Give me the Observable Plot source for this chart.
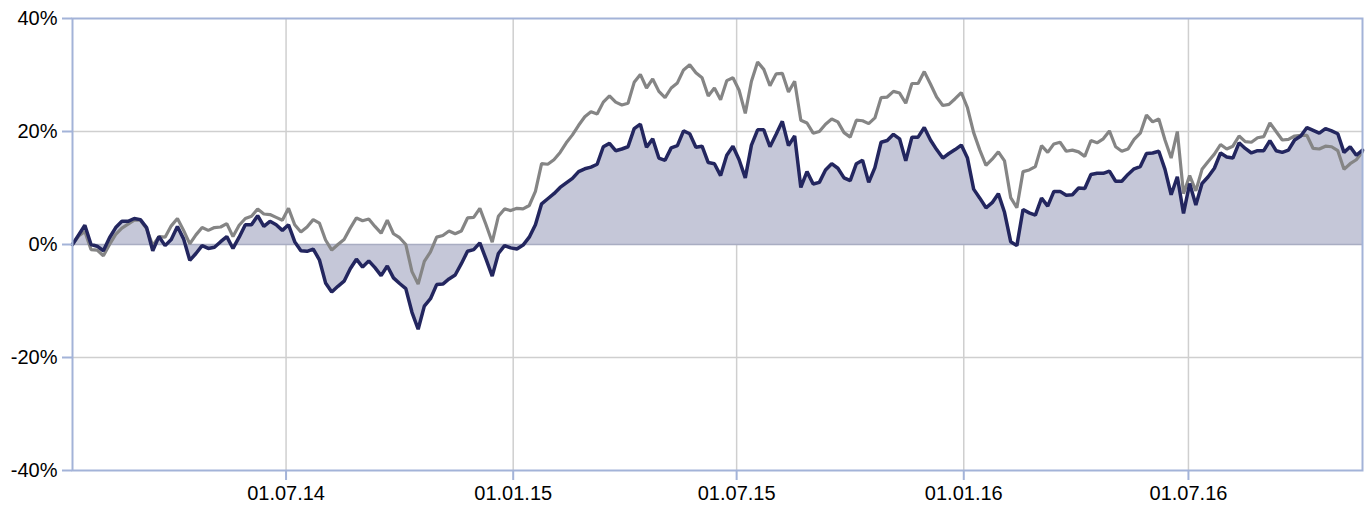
<!DOCTYPE html>
<html>
<head>
<meta charset="utf-8">
<script src="https://cdn.jsdelivr.net/npm/d3@7"></script>
<script src="https://cdn.jsdelivr.net/npm/@observablehq/plot@0.6"></script>
<style>
  html, body { margin: 0; padding: 0; background: #fff; }
  #chart svg { display: block; }
</style>
</head>
<body>
<div id="chart"></div>
<script>
// Series start date and sampling step (days)
const startDate = "2014-01-09";
const stepDays = 5;
const xDomain = ["2014-01-09", "2016-11-19"];

// Fund performance (navy, filled) in %
const fundValues = [
  0, 1.7, 3.4, 0, -0.3, -1.1, 1.2, 3.0, 4.1, 4.1,
  4.6, 4.4, 3.0, -1.1, 1.4, -0.2, 0.9, 3.2, 1.0, -2.8,
  -1.6, -0.2, -0.7, -0.5, 0.5, 1.4, -0.7, 1.3, 3.5, 3.5,
  5.1, 3.2, 4.1, 3.5, 2.5, 3.5, 0.5, -1.1, -1.2, -0.8,
  -2.7, -6.8, -8.4, -7.4, -6.5, -4.3, -2.6, -4.0, -2.9, -4.1,
  -5.5, -3.8, -5.9, -6.9, -7.8, -12.0, -15.0, -10.9, -9.6, -7.1,
  -7.0, -6.1, -5.4, -3.4, -1.2, -0.9, 0.3, -2.6, -5.6, -1.6,
  -0.2, -0.6, -0.8, -0.1, 1.3, 3.5, 7.2, 8.1, 9.0, 10.1,
  10.9, 11.7, 12.9, 13.4, 13.7, 14.2, 17.3, 17.9, 16.6, 16.9,
  17.3, 20.5, 21.3, 17.2, 18.7, 15.3, 14.9, 17.1, 17.5, 20.1,
  19.6, 17.2, 17.4, 14.5, 14.3, 12.2, 15.8, 17.4, 15.0, 11.8,
  17.6, 20.3, 20.3, 17.3, 19.5, 21.8, 17.5, 19.2, 10.1, 12.9,
  10.7, 11.0, 13.2, 14.3, 13.5, 11.8, 11.3, 14.3, 14.9, 11.0,
  13.6, 18.1, 18.4, 19.5, 18.7, 14.8, 19.0, 19.0, 20.7, 18.5,
  16.8, 15.3, 16.1, 16.8, 17.6, 15.3, 9.8, 8.2, 6.5, 7.4,
  9.0, 5.7, 0.5, -0.2, 6.2, 5.6, 5.2, 8.2, 6.8, 9.4,
  9.4, 8.7, 8.8, 10.0, 9.9, 12.4, 12.6, 12.6, 13.0, 11.2,
  11.2, 12.4, 13.4, 13.8, 16.1, 16.2, 16.5, 13.3, 8.8, 12.0,
  5.5, 10.8, 7.0, 10.8, 12.0, 13.5, 16.2, 15.5, 15.3, 18.0,
  17.0, 16.2, 16.6, 16.6, 18.4, 16.6, 16.3, 16.7, 18.5, 19.2,
  20.7, 20.2, 19.7, 20.5, 20.1, 19.6, 16.3, 17.3, 15.8, 16.7
];

// Benchmark performance (gray line) in %
const benchValues = [
  0, 1.5, 2.3, -0.9, -1.0, -2.0, 0.0, 1.8, 2.9, 3.6,
  4.3, 4.3, 2.8, -0.2, 1.4, 1.3, 3.3, 4.6, 2.5, 0.1,
  1.7, 3.0, 2.5, 3.0, 3.1, 3.7, 1.4, 3.4, 4.6, 5.0,
  6.3, 5.4, 5.3, 4.8, 4.3, 6.4, 3.5, 2.2, 3.1, 4.4,
  3.8, 0.8, -1.0, 0.0, 0.9, 2.9, 4.7, 4.2, 4.5, 3.2,
  2.0, 4.3, 1.9, 1.2, 0.0, -4.8, -7.0, -3.0, -1.3, 1.3,
  1.6, 2.4, 1.9, 2.4, 4.7, 4.8, 6.4, 3.5, 0.4, 5.0,
  6.3, 6.0, 6.4, 6.3, 6.9, 9.4, 14.3, 14.2, 15.0, 16.3,
  18.0, 19.4, 21.1, 22.6, 23.5, 23.1, 25.2, 26.3, 25.2, 24.7,
  25.0, 28.7, 30.1, 27.7, 29.3, 27.1, 26.0, 27.7, 28.6, 30.9,
  31.8, 30.4, 29.5, 26.3, 27.7, 25.6, 29.0, 29.5, 27.3, 23.2,
  28.9, 32.3, 31.0, 28.1, 30.2, 30.3, 27.0, 28.9, 22.0, 21.5,
  19.7, 20.0, 21.3, 22.2, 21.7, 19.8, 19.0, 22.0, 21.9, 21.4,
  22.4, 26.0, 26.1, 27.1, 26.8, 25.0, 28.5, 28.5, 30.6, 28.4,
  26.1, 24.6, 24.8, 25.8, 26.9, 24.2, 19.8, 16.7, 14.0, 15.1,
  16.4, 14.8, 8.3, 6.5, 12.9, 13.2, 13.8, 17.5, 16.3, 17.8,
  18.1, 16.5, 16.7, 16.4, 15.6, 18.4, 18.0, 18.7, 20.1, 17.3,
  16.5, 16.9, 18.6, 19.7, 22.9, 21.7, 22.2, 18.5, 15.3, 20.0,
  9.0, 12.2, 9.5, 13.3, 14.7, 16.0, 17.7, 16.9, 17.4, 19.2,
  18.2, 18.1, 18.9, 19.1, 21.5, 20.0, 18.5, 18.6, 19.2, 19.3,
  19.3, 17.0, 16.9, 17.4, 17.3, 16.6, 13.3, 14.3, 15.0, 16.4
];

// Axis ticks
const xTickDates = ["2014-07-01", "2015-01-01", "2015-07-01", "2016-01-01", "2016-07-01"];
const yTicks = [-40, -20, 0, 20, 40];

const start = new Date(startDate + "T00:00:00Z");
const data = fundValues.map((v, i) => ({
  date: d3.utcDay.offset(start, i * stepDays),
  fund: v,
  bench: benchValues[i]
}));
const xTicks = xTickDates.map(s => new Date(s + "T00:00:00Z"));

const axisBlue = "#a3b3d8";
const gridGray = "#cfcfcf";

const chart = Plot.plot({
  width: 1370,
  height: 506,
  marginLeft: 72,
  marginRight: 8,
  marginTop: 18,
  marginBottom: 36,
  style: { fontFamily: "'Liberation Sans', Arial, sans-serif", fontSize: "20px", color: "#000", background: "#fff" },
  x: { type: "utc", domain: xDomain.map(s => new Date(s + "T00:00:00Z")) },
  y: { domain: [-40, 40] },
  marks: [
    Plot.gridX(xTicks, { stroke: gridGray, strokeOpacity: 1, strokeWidth: 1.5 }),
    Plot.gridY([-20, 20], { stroke: gridGray, strokeOpacity: 1, strokeWidth: 1.5 }),
    Plot.areaY(data, { x: "date", y: "fund", fill: "#c5c7d8", fillOpacity: 1 }),
    Plot.ruleY([0], { stroke: "#a9adc2", strokeWidth: 1.5 }),
    Plot.lineY(data, { x: "date", y: "bench", stroke: "#858585", strokeWidth: 3.2, strokeLinejoin: "miter" }),
    Plot.lineY(data, { x: "date", y: "fund", stroke: "#23265f", strokeWidth: 3.5, strokeLinejoin: "miter" }),
    Plot.frame({ stroke: axisBlue, strokeWidth: 2 }),
    Plot.axisY(yTicks, { tickFormat: d => d + "%", tickSize: 10, tickPadding: 5, stroke: axisBlue, strokeWidth: 2, fill: "#000", fontSize: 20, label: null }),
    Plot.axisX(xTicks, { tickFormat: d3.utcFormat("%d.%m.%y"), tickSize: 10, tickPadding: 5, stroke: axisBlue, strokeWidth: 2, fill: "#000", fontSize: 20, label: null })
  ]
});

document.getElementById("chart").appendChild(chart);
</script>
</body>
</html>
